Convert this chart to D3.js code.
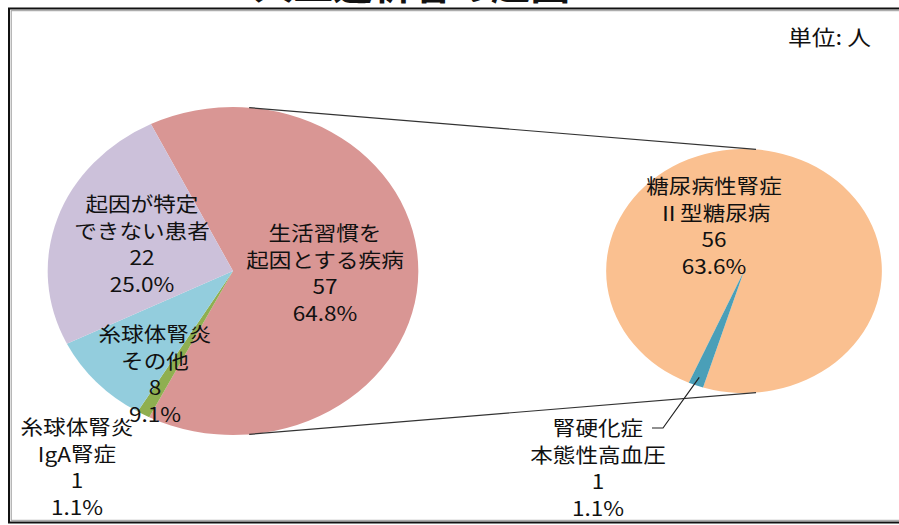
<!DOCTYPE html>
<html><head><meta charset="utf-8">
<script src="https://cdn.jsdelivr.net/npm/d3@7"></script>
<style>
html,body{margin:0;padding:0;background:#fff;}
svg{display:block;}
text{font-family:"Noto Sans CJK JP","Noto Sans",sans-serif;fill:#111;}
</style></head>
<body>
<svg id="chart" width="899" height="525"></svg>
<script>
// ---- data ----
const mainLabels = [["生活習慣を","起因とする疾病"], ["糸球体腎炎","IgA腎症"], ["糸球体腎炎","その他"], ["起因が特定","できない患者"]];
const mainValues = [57, 1, 8, 22];
const mainColors = ["#D99694", "#8FAF50", "#93CDDD", "#CCC1DA"];
const subLabels = [["糖尿病性腎症","Ⅱ型糖尿病"], ["腎硬化症","本態性高血圧"]];
const subValues = [56, 1];
const subColors = ["#FAC090", "#4A9FB8"];
const titleText = "人工透析者の起因";
const unitText = "単位: 人";

// ---- layout ----
const W = 899, H = 525;
const sx = 1.13;               // horizontal stretch of the picture
const mainC = {x: 233, y: 271, r: 164};
const subC  = {x: 744, y: 271, r: 122};
const deg = Math.PI / 180;
const mainStart = -26.3 * deg;
const subStart = 203.6 * deg;
const lineGap = 26.5;
const fontSize = 20;
// label block centres for [main slices] and [sub slices]
const mainLabelPos = [[325, 272], [77, 466], [155, 373], [142, 243]];
const subLabelPos = [[714, 225], [598, 467]];

const svg = d3.select("#chart");
const total = d3.sum(mainValues);
const pct = v => d3.format(".1f")(v / total * 100) + "%";

// frame
svg.append("rect").attr("x", 9).attr("y", 8.5).attr("width", W + 20).attr("height", 514)
  .attr("fill", "none").attr("stroke", "#111").attr("stroke-width", 2);
svg.append("rect").attr("x", 11.2).attr("y", 10.7).attr("width", W + 20).attr("height", 509.6)
  .attr("fill", "none").attr("stroke", "#999").attr("stroke-width", 1);

// title (mostly above the visible area, as in the reference)
svg.append("text").attr("transform", `translate(412,0) scale(${sx},1)`).attr("text-anchor", "middle")
  .style("font-size", "35px").style("font-weight", "bold").text(titleText);

// unit
svg.append("text").attr("transform", `translate(788,36) scale(${sx},1)`).attr("dominant-baseline", "central")
  .style("font-size", "21px").text(unitText);

function drawPie(values, colors, c, start) {
  const pie = d3.pie().sort(null).startAngle(start).endAngle(start + 2 * Math.PI);
  const arcs = pie(values);
  const arc = d3.arc().innerRadius(0).outerRadius(c.r);
  const g = svg.append("g").attr("transform", `translate(${c.x},${c.y}) scale(${sx},1)`);
  g.selectAll("path").data(arcs).join("path")
    .attr("d", arc).attr("fill", (d, i) => colors[i]);
  return arcs;
}

const mainArcs = drawPie(mainValues, mainColors, mainC, mainStart);
const subArcs = drawPie(subValues, subColors, subC, subStart);

// connector lines (Excel pie-of-pie)
function pt(c, a) { return [c.x + sx * c.r * Math.sin(a), c.y - c.r * Math.cos(a)]; }
const cA = 5 * deg;
const conn = [[pt(mainC, cA), pt(subC, cA)], [pt(mainC, Math.PI - cA), pt(subC, Math.PI - cA)]];
svg.selectAll("line.conn").data(conn).join("line").attr("class", "conn")
  .attr("x1", d => d[0][0]).attr("y1", d => d[0][1])
  .attr("x2", d => d[1][0]).attr("y2", d => d[1][1])
  .attr("stroke", "#333").attr("stroke-width", 1.2);

// leader line for small sub slice
const tealArc = subArcs[1];
const tealMid = (tealArc.startAngle + tealArc.endAngle) / 2;
const tp = pt({x: subC.x, y: subC.y, r: subC.r * 0.93}, tealMid);
svg.append("polyline")
  .attr("points", [[652, 428], [663, 428], tp].map(p => p.join(",")).join(" "))
  .attr("fill", "none").attr("stroke", "#222").attr("stroke-width", 1.2);

function drawLabel(lines, pos) {
  const y0 = pos[1] - lineGap * (lines.length - 1) / 2;
  lines.forEach((t, i) => {
    svg.append("text")
      .attr("transform", `translate(${pos[0]},${y0 + i * lineGap}) scale(${sx},1)`)
      .attr("text-anchor", "middle").attr("dominant-baseline", "central")
      .style("font-size", fontSize + "px").text(t);
  });
}
mainArcs.forEach((a, i) => drawLabel([...mainLabels[i], String(mainValues[i]), pct(mainValues[i])], mainLabelPos[i]));
subArcs.forEach((a, i) => drawLabel([...subLabels[i], String(subValues[i]), pct(subValues[i])], subLabelPos[i]));
</script>
</body></html>
